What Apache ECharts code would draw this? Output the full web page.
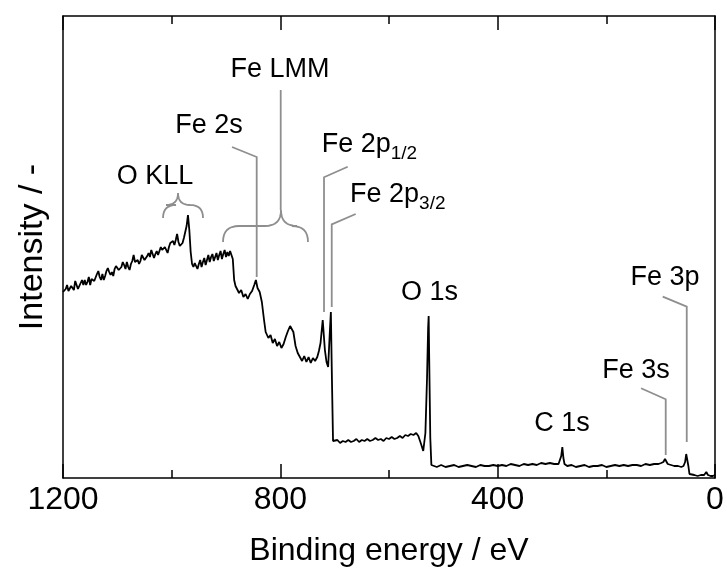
<!DOCTYPE html>
<html><head><meta charset="utf-8">
<script src="https://cdn.jsdelivr.net/npm/echarts@6/dist/echarts.min.js"></script>
<style>html,body{margin:0;padding:0;background:#fff}#c{width:727px;height:576px}</style>
</head><body><div id="c"></div>
<script>
// ---- spectrum (binding energy in eV, intensity in arbitrary units) ----
const bindingEnergy = [
1200,1197.5,1195,1192.5,1190,1187.5,1185,1182.5,1180,1177.5,1175,1172.5,1170,1167.5,1165,1162.5,1160,1157.5,1155,1152.5,
1150,1147.5,1145,1142.5,1140,1137.5,1135,1132.5,1130,1127.5,1125,1122.5,1120,1117.5,1115,1112.5,1110,1107.5,1105,1102.5,
1100,1097.5,1095,1092.5,1090,1087.5,1085,1082.5,1080,1077.5,1075,1072.5,1070,1067.5,1065,1062.5,1060,1057.5,1055,1052.5,
1050,1047.5,1045,1042.5,1040,1037.5,1035,1032.5,1030,1027.5,1025,1022.5,1020,1017.5,1015,1012.5,1010,1007.5,1005,1002.5,
1000,997.5,995,992.5,990,987.5,985,982.5,980,977.5,975,972.5,970,967.5,965,962.5,960,957.5,955,952.5,
950,947.5,945,942.5,940,937.5,935,932.5,930,927.5,925,922.5,920,917.5,915,912.5,910,907.5,905,902.5,
900,897.5,895,892.5,890,887.5,885,882.5,880,876,872,868,864,860,856,852,848,845,842,838,
834,830,827,822,818,814,810,806,802,798,794,790,786,782,779,776,772,768,764,760,
756,752,748,744,740,736,732,729,726,722,718,715,712,709,707,705,703,
700,695,690,685,680,675,670,665,660,655,650,645,640,635,630,625,620,615,610,605,
600,595,590,585,580,575,570,565,560,555,550,546,541,537,533,530,528,527,526,524,522,
520,512,504,496,488,480,472,464,456,448,440,432,424,416,408,400,392,384,376,368,
360,352,344,336,328,320,312,304,296,288,285,283,281,279,277,272,264,256,248,240,
232,224,216,208,200,192,184,176,168,160,152,144,136,128,120,112,104,99,95,92,
90,87,81,75,68,62,58,55,53,51,49,47,44,38,32,26,20,16,13,8,4,0];
const intensity = [
186,184,189,193,187,185,192,190,188,197,193,189,188,195,198,193,198,193,196,201,
193,199,201,197,198,204,207,201,198,204,198,202,207,210,206,203,206,202,209,212,
211,208,206,211,216,213,209,216,211,208,214,217,223,216,214,218,214,217,223,221,
218,216,222,225,221,228,224,220,224,227,223,225,231,228,226,231,229,225,231,235,
233,237,233,238,244,236,232,230,235,240,246,252,263,248,226,214,211,215,212,209,
214,218,211,216,220,213,218,223,216,221,224,217,221,225,218,223,227,219,224,228,
221,226,222,227,223,219,198,192,190,185,188,181,184,179,184,187,193,198,190,186,
176,158,146,140,143,135,139,132,136,130,134,141,147,152,154,146,132,125,121,117,
122,116,121,115,120,117,121,127,135,158,128,116,111,145,166,98,37,
36,38,35,37,36,38,36,37,39,36,38,37,39,37,38,40,38,39,37,40,
39,41,39,40,42,40,43,42,44,43,45,42,34,27,45,100,150,162,120,40,13,
12,11,13,11,12,13,11,12,13,12,11,13,12,12,13,12,13,12,14,13,
12,14,13,14,13,15,14,15,14,14,16,22,31,20,14,12,13,11,12,13,
11,12,12,13,11,12,13,12,13,12,13,13,12,14,13,14,14,15,16,19,
17,14,13,12,12,11,12,16,24,22,12,4,3,3,2,3,3,6,3,2,2,3];

// ---- axis ----
const xMin = 0, xMax = 1200, xStep = 400;
const yMin = 0, yMax = 462;

// ---- peak annotations ----
const labelText = ['O KLL','Fe 2s','Fe LMM','Fe 2p','Fe 2p','O 1s','C 1s','Fe 3s','Fe 3p'];
const labelSub  = ['','','','1/2','3/2','','','',''];
const labelBE   = [1030.7, 931.3, 800.6, 723.8, 671.7, 525.4, 281.5, 145.3, 92];
const labelVal  = [301, 352.5, 408.4, 333, 283, 185.5, 54.3, 107, 200];

const leaderBE  = [[888.9,843.5,843.5],[799.3,799.3],[676,719.6,719.6],[661.3,705.4,705.4],[136.1,90.7,90.7],[96.2,52,52]];
const leaderVal = [[331,321,201],[388,268],[311.3,300.7,166],[264,253.7,171],[89.7,78.7,23],[181.3,171.3,36]];

// brace: [left end, tip, right end] in eV ; [tip, bar, ends] in intensity
const braceBE  = [[1015.9,988.3,942.3],[905.5,798.8,749.1]];
const braceVal = [[285,273,260],[268,252,236]];

const FONT = "'Liberation Sans', Arial, sans-serif";
const GREY = '#8e8e8e';

const spectrum = bindingEnergy.map((b,i)=>[b,intensity[i]]);

function quad(p0,p1,p2,n){const out=[];for(let k=1;k<=n;k++){const t=k/n,u=1-t;out.push([u*u*p0[0]+2*u*t*p1[0]+t*t*p2[0],u*u*p0[1]+2*u*t*p1[1]+t*t*p2[1]]);}return out;}

const chart = echarts.init(document.getElementById('c'), null, {renderer:'canvas'});
const axisCommon = {
  type:'value', min:xMin, max:xMax, interval:xStep, inverse:true,
  axisLine:{show:true,onZero:false,lineStyle:{color:'#000',width:1.5}},
  axisTick:{show:true,inside:true,length:14,lineStyle:{color:'#000',width:1.5}},
  minorTick:{show:true,splitNumber:2,length:8,lineStyle:{color:'#000',width:1.5}},
  splitLine:{show:false}, minorSplitLine:{show:false}
};
chart.setOption({
  animation:false,
  backgroundColor:'#fff',
  grid:{left:63,right:12,top:16,bottom:98,containLabel:false},
  xAxis:[
    Object.assign({}, axisCommon, {position:'bottom',
      axisLabel:{show:true,color:'#000',fontSize:32,fontFamily:FONT,margin:6,formatter:v=>String(v)},
      name:'Binding energy / eV', nameLocation:'middle', nameGap:57,
      nameTextStyle:{color:'#000',fontSize:32,fontFamily:FONT}}),
    Object.assign({}, axisCommon, {position:'top', axisLabel:{show:false}})
  ],
  yAxis:[
    {type:'value',min:yMin,max:yMax,position:'left',
     axisLine:{show:true,onZero:false,lineStyle:{color:'#000',width:1.5}},
     axisTick:{show:false},axisLabel:{show:false},splitLine:{show:false},
     name:'Intensity / -',nameLocation:'middle',nameGap:13,
     nameTextStyle:{color:'#000',fontSize:34,fontFamily:FONT}},
    {type:'value',min:yMin,max:yMax,position:'right',
     axisLine:{show:true,onZero:false,lineStyle:{color:'#000',width:1.5}},
     axisTick:{show:false},axisLabel:{show:false},splitLine:{show:false}}
  ],
  series:[
    {type:'line',data:spectrum,showSymbol:false,symbol:'none',
     lineStyle:{color:'#000',width:1.8},xAxisIndex:0,yAxisIndex:0,z:3},
    {type:'custom',xAxisIndex:0,yAxisIndex:0,z:2,
     data:leaderBE.map((b,i)=>[b[0],leaderVal[i][0]]),
     renderItem:(params,api)=>{
       const i=params.dataIndex;
       const pts=leaderBE[i].map((b,k)=>api.coord([b,leaderVal[i][k]]));
       return {type:'polyline',shape:{points:pts},style:{stroke:GREY,lineWidth:1.8,fill:null}};
     }},
    {type:'custom',xAxisIndex:0,yAxisIndex:0,z:2,
     data:braceBE.map((b,i)=>[b[1],braceVal[i][0]]),
     renderItem:(params,api)=>{
       const i=params.dataIndex;
       const [x0,xt,x1]=braceBE[i].map(b=>api.coord([b,0])[0]);
       const [yt,yb,ye]=braceVal[i].map(v=>api.coord([0,v])[1]);
       const rE=ye-yb, rT=yb-yt;
       let pts=[[x0,ye]];
       pts=pts.concat(quad([x0,ye],[x0,yb],[x0+rE,yb],8));
       pts.push([xt-rT,yb]);
       pts=pts.concat(quad([xt-rT,yb],[xt,yb],[xt,yt],8));
       pts=pts.concat(quad([xt,yt],[xt,yb],[xt+rT,yb],8));
       pts.push([x1-rE,yb]);
       pts=pts.concat(quad([x1-rE,yb],[x1,yb],[x1,ye],8));
       return {type:'polyline',shape:{points:pts},style:{stroke:GREY,lineWidth:1.8,fill:null}};
     }},
    {type:'custom',xAxisIndex:0,yAxisIndex:0,z:4,
     data:labelBE.map((b,i)=>[b,labelVal[i]]),
     renderItem:(params,api)=>{
       const i=params.dataIndex;
       const p=api.coord([labelBE[i],labelVal[i]]);
       if(labelSub[i]){
         return {type:'text',x:p[0],y:p[1],style:{
           text:'{m|'+labelText[i]+'}{s|'+labelSub[i]+'}',
           align:'left',verticalAlign:'middle',
           rich:{m:{fontSize:27,fontFamily:FONT,fill:'#000',lineHeight:36,verticalAlign:'middle'},
                 s:{fontSize:19,fontFamily:FONT,fill:'#000',lineHeight:19,verticalAlign:'bottom'}}}};
       }
       return {type:'text',x:p[0],y:p[1],style:{text:labelText[i],fontSize:27,fontFamily:FONT,fill:'#000',align:'center',verticalAlign:'middle'}};
     }}
  ]
});
</script></body></html>
